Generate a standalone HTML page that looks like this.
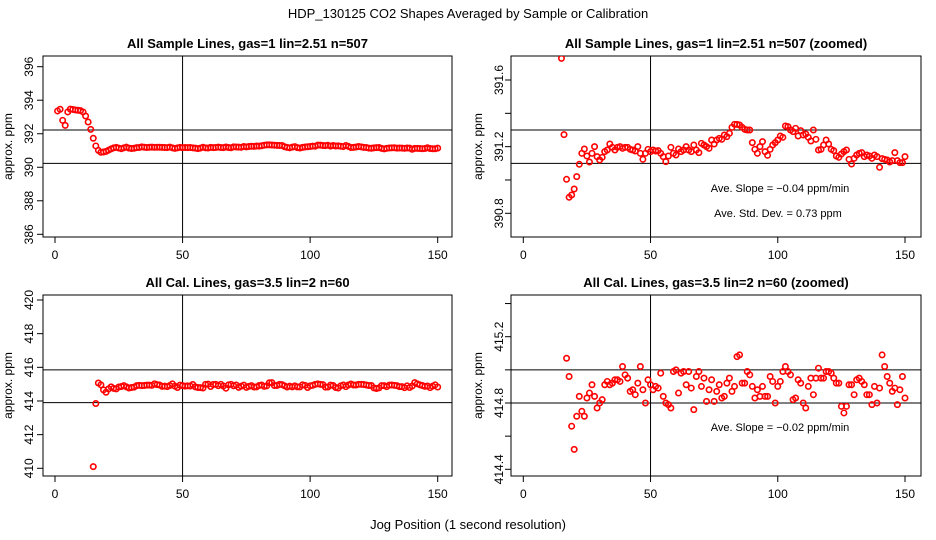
<!DOCTYPE html>
<html><head><meta charset="utf-8"><style>
html,body{margin:0;background:#fff;width:936px;height:540px;overflow:hidden}
svg{display:block;font-family:"Liberation Sans",sans-serif;white-space:pre}
</style></head><body>
<svg id="c" width="936" height="540">
<text x="468" y="18" text-anchor="middle" font-size="13">HDP_130125  CO2 Shapes Averaged by Sample or Calibration</text>
<text x="468" y="529" text-anchor="middle" font-size="13">Jog Position (1 second resolution)</text>
</svg>
<script>
const sampleEarly=[393.36,393.46,392.8,392.5,393.3,393.47,393.45,393.42,393.4,393.38,393.3,393.06,392.7,392.26];
const sampleZy=[55,284,418,472,465,447,410,373,340,327,348,366,340,320,350,360,352,335,330,312,322,330,322,320,325,322,322,328,330,333,320,340,358,340,328,335,330,333,332,340,350,365,348,322,340,345,327,335,330,320,330,335,315,330,338,310,315,320,325,300,312,300,295,298,285,290,280,262,253,253,255,262,268,270,270,308,328,340,320,305,335,346,328,315,308,300,288,292,258,260,270,275,265,288,272,285,282,292,303,270,298,330,328,315,300,312,328,332,348,352,342,335,330,358,372,355,345,340,338,350,345,348,355,345,350,382,356,358,360,366,362,338,362,368,368,350];
const calEarly=[410.1,413.85];
const calVals=[415.07,414.96,414.66,414.52,414.72,414.84,414.75,414.72,414.83,414.86,414.91,414.84,414.77,414.8,414.82,414.91,414.93,414.91,414.92,414.94,414.94,414.93,415.02,414.97,414.95,414.87,414.88,414.85,414.92,415.02,414.88,414.8,414.94,414.91,414.88,414.9,414.89,414.98,414.84,414.8,414.79,414.77,414.99,415.0,414.86,414.98,414.99,414.91,414.99,414.89,414.76,414.96,414.99,414.9,414.95,414.81,414.88,414.94,414.81,414.87,414.91,414.83,414.84,414.92,414.95,414.87,414.9,415.08,415.09,414.92,414.92,414.99,414.97,414.9,414.83,414.88,414.84,414.9,414.84,414.84,414.96,414.93,414.8,414.9,414.93,414.99,415.02,414.99,414.97,414.82,414.83,414.94,414.92,414.8,414.77,414.9,414.95,414.85,414.95,415.01,414.95,414.95,414.99,414.99,414.98,414.95,414.92,414.92,414.78,414.74,414.78,414.91,414.91,414.85,414.94,414.95,414.93,414.91,414.85,414.85,414.79,414.9,414.8,414.89,415.09,415.02,414.96,414.92,414.87,414.89,414.79,414.88,414.96,414.83];
const xTicks=[0,50,100,150];

const NS="http://www.w3.org/2000/svg";
const svg=document.getElementById('c');
function mk(t,a,p){const e=document.createElementNS(NS,t);for(const k in a)e.setAttribute(k,a[k]);(p||svg).appendChild(e);return e;}

const sample=sampleEarly.concat(sampleZy.map(z=>+(391.6-(z-120)*0.002).toFixed(3)));
const cal=calEarly.concat(calVals);
const sampleX=sample.map((v,i)=>i+1);
const calX=cal.map((v,i)=>i+15);

const panels=[
 {name:'sample',title:'All Sample Lines, gas=1 lin=2.51 n=507',box:[43,56,452,237],x0:55,x1:437.7,yv:[396,386],yp:[66.7,234.3],ticks:[386,388,390,392,394,396],labels:[386,388,390,392,394,396],h:[392.22,390.23],xs:sampleX,ys:sample,ann:[],ty:44,lx:33,ax:12,dec:0},
 {name:'sample-zoomed',title:'All Sample Lines, gas=1 lin=2.51 n=507 (zoomed)',box:[511,56,921,237],x0:523.3,x1:905,yv:[391.6,390.8],yp:[80,213.3],ticks:[390.8,391.0,391.2,391.4,391.6],labels:[390.8,391.2,391.6],h:[391.3,391.1],xs:sampleX,ys:sample,ann:[['Ave. Slope =  \u22120.04  ppm/min',780,192],['Ave. Std. Dev. =  0.73  ppm',778,217]],ty:44,lx:503,ax:482,dec:1},
 {name:'cal',title:'All Cal. Lines, gas=3.5 lin=2 n=60',box:[43,295,452,476],x0:55,x1:437.7,yv:[420,410],yp:[300,468.3],ticks:[410,412,414,416,418,420],labels:[410,412,414,416,418,420],h:[415.85,413.9],xs:calX,ys:cal,ann:[],ty:283,lx:33,ax:12,dec:0},
 {name:'cal-zoomed',title:'All Cal. Lines, gas=3.5 lin=2 n=60 (zoomed)',box:[511,295,921,476],x0:523.3,x1:905,yv:[415.2,414.4],yp:[336.7,469.3],ticks:[414.4,414.6,414.8,415.0,415.2,415.4],labels:[414.4,414.8,415.2],h:[415.0,414.8],xs:calX,ys:cal,ann:[['Ave. Slope =  \u22120.02  ppm/min',780,431]],ty:283,lx:503,ax:482,dec:1}
];

panels.forEach((p,pi)=>{
 const g=mk('g',{});
 
 
 const X=v=>p.x0+(v-0)*(p.x1-p.x0)/150;
 const Y=v=>p.yp[0]+(v-p.yv[0])*(p.yp[1]-p.yp[0])/(p.yv[1]-p.yv[0]);
 const [bx0,by0,bx1,by1]=p.box;
 const cp='clip'+pi;
 const cl=mk('clipPath',{id:cp},g);mk('rect',{x:bx0,y:by0,width:bx1-bx0,height:by1-by0},cl);
 const t=mk('text',{x:(bx0+bx1)/2,y:p.ty+4,'text-anchor':'middle','font-size':13,'font-weight':'bold'},g);t.textContent=p.title;
 
 
 const fr=mk('rect',{x:bx0,y:by0,width:bx1-bx0,height:by1-by0,fill:'none',stroke:'#000','stroke-width':1},g);
 
 
 xTicks.forEach(v=>{
  mk('line',{x1:X(v),x2:X(v),y1:by1,y2:by1+6,stroke:'#000'},g);
  const tl=mk('text',{x:X(v),y:by1+22,'text-anchor':'middle','font-size':12},g);tl.textContent=v;
  
  
 });
 p.ticks.forEach(v=>{
  mk('line',{x1:bx0,x2:bx0-6,y1:Y(v),y2:Y(v),stroke:'#000'},g);
 });
 p.labels.forEach(v=>{
  const tl=mk('text',{x:p.lx,y:Y(v),'text-anchor':'middle','font-size':12,transform:`rotate(-90 ${p.lx} ${Y(v)})`},g);
  tl.textContent=v.toFixed(p.dec);
  
  
 });
 const ay=(by0+by1)/2;
 const at=mk('text',{x:p.ax,y:ay,'text-anchor':'middle','font-size':12,transform:`rotate(-90 ${p.ax} ${ay})`},g);at.textContent='approx. ppm';
 
 
 const vl=mk('line',{x1:X(50),x2:X(50),y1:by0,y2:by1,stroke:'#000'},g);
 
 
 p.h.forEach(v=>{
  const hl=mk('line',{x1:bx0,x2:bx1,y1:Y(v),y2:Y(v),stroke:'#000'},g);
  
  
 });
 const pg=mk('g',{'clip-path':`url(#${cp})`},g);
 p.ys.forEach((v,i)=>{
  const c=mk('circle',{cx:X(p.xs[i]),cy:Y(v),r:2.7,fill:'none',stroke:'#f00','stroke-width':1.6},pg);
  
  
 });
 p.ann.forEach(a=>{
  const tx=mk('text',{x:a[1],y:a[2],'text-anchor':'middle','font-size':11},g);tx.textContent=a[0];
  
  
 });
});
</script>
</body></html>
